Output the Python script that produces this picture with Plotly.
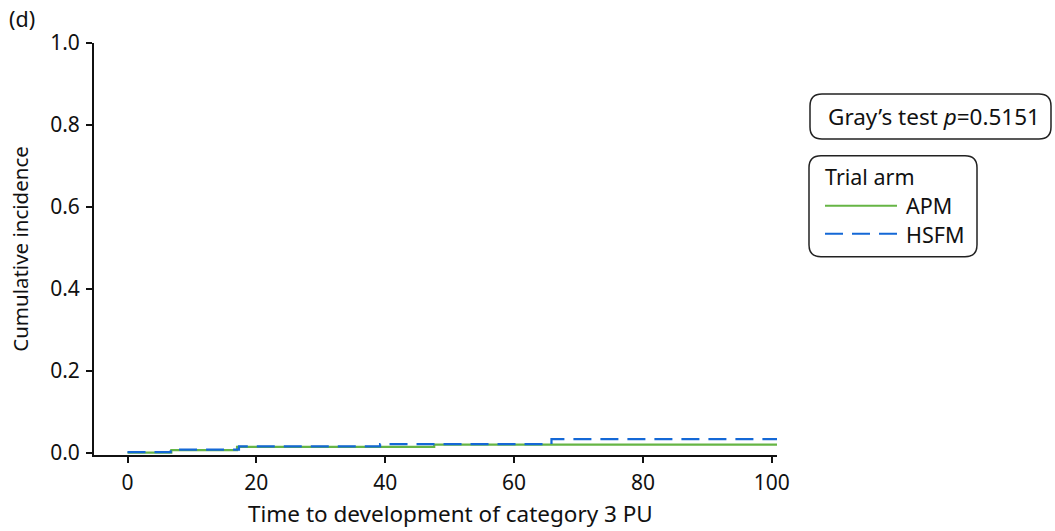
import plotly.graph_objects as go

# Data
apm_time = [0.0, 6.8, 17.0, 47.6, 100.8]
apm_cif = [0.0, 0.006, 0.014, 0.0195, 0.0195]
hsfm_time = [0.0, 6.7, 17.3, 39.2, 65.8, 100.8]
hsfm_cif = [0.001, 0.007, 0.015, 0.0205, 0.033, 0.033]

x_ticks = [0, 20, 40, 60, 80, 100]
y_ticks = [0.0, 0.2, 0.4, 0.6, 0.8, 1.0]
y_ticklabels = ["0.0", "0.2", "0.4", "0.6", "0.8", "1.0"]

x_title = "Time to development of category 3 PU"
y_title = "Cumulative incidence"

GREEN = "#66b545"
BLUE = "#1468d6"
FONT = "Noto Sans"
TXT = "#111"

W, H = 1055, 531
L, R, T, B = 94, 777, 43, 455.5

fig = go.Figure()
fig.add_trace(go.Scatter(x=apm_time, y=apm_cif, mode="lines", line_shape="hv",
                         line=dict(color=GREEN, width=2.2), name="APM", showlegend=False))
fig.add_trace(go.Scatter(x=hsfm_time, y=hsfm_cif, mode="lines", line_shape="hv",
                         line=dict(color=BLUE, width=2.2, dash="18px,9px"), name="HSFM",
                         showlegend=False))


def px(x):
    return (x - L) / (R - L)


def py(y):
    return (B - y) / (B - T)


def rounded_rect(x0, y0, x1, y1, r):
    pts = [
        ("M", x0 + r, y0),
        ("L", x1 - r, y0), ("Q", x1, y0, x1, y0 + r),
        ("L", x1, y1 - r), ("Q", x1, y1, x1 - r, y1),
        ("L", x0 + r, y1), ("Q", x0, y1, x0, y1 - r),
        ("L", x0, y0 + r), ("Q", x0, y0, x0 + r, y0),
    ]
    s = ""
    for p in pts:
        cmd = p[0]
        coords = p[1:]
        parts = []
        for i in range(0, len(coords), 2):
            parts.append(f"{px(coords[i]):.5f},{py(coords[i+1]):.5f}")
        s += cmd + " ".join(parts) + " "
    return s + "Z"


shapes = [
    dict(type="path", xref="paper", yref="paper", path=rounded_rect(810, 94, 1051, 139, 12),
         line=dict(color="#222", width=1.5), fillcolor="rgba(0,0,0,0)"),
    dict(type="path", xref="paper", yref="paper", path=rounded_rect(809, 156, 977, 257, 12),
         line=dict(color="#222", width=1.5), fillcolor="rgba(0,0,0,0)"),
    dict(type="line", xref="paper", yref="paper", x0=px(825), x1=px(897), y0=py(206), y1=py(206),
         line=dict(color=GREEN, width=2)),
    dict(type="line", xref="paper", yref="paper", x0=px(825), x1=px(897), y0=py(234), y1=py(234),
         line=dict(color=BLUE, width=2, dash="18px,9px")),
]

ann_font = dict(family=FONT, size=21.5, color=TXT)
annotations = [
    dict(text="Gray’s test <i>p</i>=0.5151", x=px(826), y=py(117), xref="paper", yref="paper",
         xanchor="left", yanchor="middle", showarrow=False,
         font=dict(family=FONT, size=22.5, color=TXT)),
    dict(text="Trial arm", x=px(823), y=py(177), xref="paper", yref="paper",
         xanchor="left", yanchor="middle", showarrow=False, font=ann_font),
    dict(text="APM", x=px(904), y=py(206), xref="paper", yref="paper",
         xanchor="left", yanchor="middle", showarrow=False, font=ann_font),
    dict(text="HSFM", x=px(904), y=py(235), xref="paper", yref="paper",
         xanchor="left", yanchor="middle", showarrow=False, font=ann_font),
    dict(text="(d)", x=px(7), y=py(18), xref="paper", yref="paper",
         xanchor="left", yanchor="middle", showarrow=False, font=ann_font),
    dict(text=x_title, x=px(450), y=py(531), xref="paper", yref="paper",
         xanchor="center", yanchor="bottom", showarrow=False, borderpad=0,
         font=dict(family=FONT, size=22.5, color=TXT)),
]

fig.update_layout(
    width=W, height=H,
    margin=dict(l=L, r=W - R, t=T, b=H - B, autoexpand=False),
    paper_bgcolor="white", plot_bgcolor="white",
    font=dict(family=FONT, size=21, color=TXT),
    shapes=shapes, annotations=annotations,
    showlegend=False,
    xaxis=dict(range=[-5.2, 100.8], tickvals=x_ticks, ticks="outside", ticklen=6, tickwidth=2,
               tickcolor=TXT, showline=True, linewidth=2, linecolor=TXT, showgrid=False,
               zeroline=False, tickfont=dict(size=21), automargin=False,
               ticklabelstandoff=2),
    yaxis=dict(range=[-0.006, 1.0], tickvals=y_ticks, ticktext=y_ticklabels, ticks="outside",
               ticklen=6, tickwidth=2, tickcolor=TXT, showline=True, linewidth=2,
               linecolor=TXT, showgrid=False, zeroline=False, tickfont=dict(size=21),
               automargin=False,
               title=dict(text=y_title, standoff=16, font=dict(size=20.5)),
               ticklabelstandoff=2),
)

fig.write_html("out.html")
